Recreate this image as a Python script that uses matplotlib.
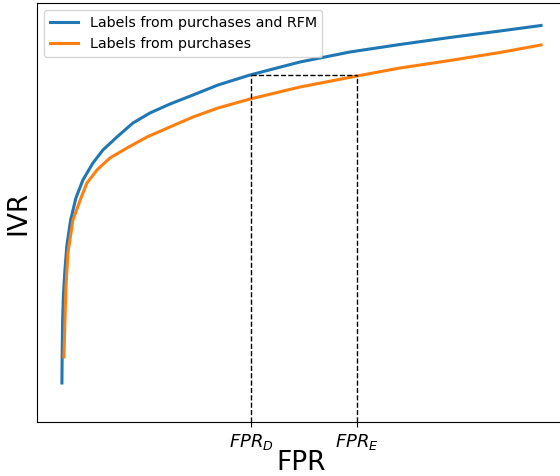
import matplotlib
matplotlib.use("Agg")
import matplotlib.pyplot as plt

# (FPR normalised 0..1, IVR normalised 0..1)
fpr_rfm = [0.0, 0.0006, 0.0015, 0.0031, 0.0063, 0.0104, 0.0182, 0.0292, 0.0438, 0.0647,
           0.0856, 0.1148, 0.1482, 0.1837, 0.2255, 0.2735, 0.3257, 0.3925, 0.4969,
           0.6013, 0.7056, 0.8100, 0.9144, 1.0]
ivr_rfm = [0.0931, 0.1718, 0.2434, 0.3031, 0.3628, 0.4224, 0.4821, 0.5346, 0.5776, 0.6181,
           0.6492, 0.6802, 0.7136, 0.7375, 0.7589, 0.7804, 0.8043, 0.8282, 0.8592,
           0.8831, 0.9010, 0.9177, 0.9332, 0.9463]

fpr_pur = [0.0042, 0.0063, 0.0084, 0.0125, 0.0230, 0.0397, 0.0522, 0.0731, 0.1002, 0.1357,
           0.1775, 0.2255, 0.2735, 0.3257, 0.3925, 0.4969, 0.6159, 0.7056, 0.8100,
           0.9144, 1.0]
ivr_pur = [0.1551, 0.2434, 0.3222, 0.4033, 0.4821, 0.5346, 0.5704, 0.6014, 0.6301, 0.6539,
           0.6802, 0.7041, 0.7279, 0.7494, 0.7709, 0.7995, 0.8258, 0.8449, 0.8628,
           0.8819, 0.8998]

fpr_d = 0.3946
fpr_e = 0.6159
ivr_level = 0.829
tick_labels = [r"$FPR_D$", r"$FPR_E$"]

fig = plt.figure(figsize=(5.6, 4.76), dpi=100)
ax = fig.add_axes([37/560, 54/476, (565-37)/560, 419/476])

ax.plot(fpr_rfm, ivr_rfm, color="#1f77b4", lw=2.2, solid_joinstyle="round",
        label="Labels from purchases and RFM")
ax.plot(fpr_pur, ivr_pur, color="#ff7f0e", lw=2.2, solid_joinstyle="round",
        label="Labels from purchases")

ax.plot([fpr_d, fpr_d], [0, ivr_level], "k--", lw=1)
ax.plot([fpr_e, fpr_e], [0, ivr_level], "k--", lw=1)
ax.plot([fpr_d, fpr_e], [ivr_level, ivr_level], "k--", lw=1)

ax.set_xlim(-0.052, 1.05)
ax.set_ylim(0, 1)
ax.set_xticks([fpr_d, fpr_e])
ax.set_xticklabels(tick_labels, fontsize=13)
ax.set_yticks([])
ax.set_xlabel("FPR", fontsize=19, labelpad=-1)
ax.set_ylabel("IVR", fontsize=19)
ax.legend(loc="upper left", fontsize=10.25)

fig.savefig("out.png", dpi=100)
